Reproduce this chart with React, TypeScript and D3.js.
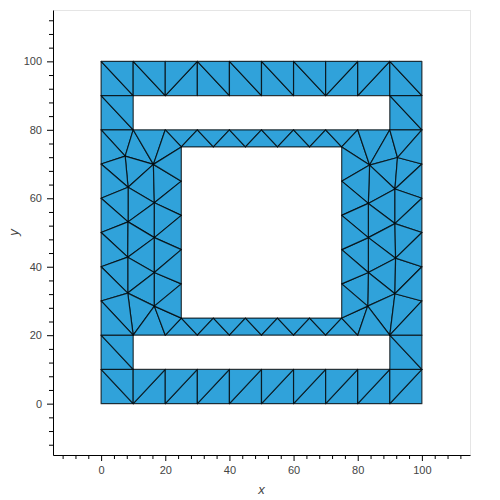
import React, { useRef, useEffect } from 'react';
import * as d3 from 'd3';

// Mesh nodes: [name, x, y]. Grid nodes are named "x_y", free interior nodes by letter.
const gridNodes: [string, number, number][] = [
  ['0_100', 0, 100], ['10_100', 10, 100], ['20_100', 20, 100], ['30_100', 30, 100], ['40_100', 40, 100], ['50_100', 50, 100],
  ['60_100', 60, 100], ['70_100', 70, 100], ['80_100', 80, 100], ['90_100', 90, 100], ['100_100', 100, 100],
  ['0_90', 0, 90], ['10_90', 10, 90], ['20_90', 20, 90], ['30_90', 30, 90], ['40_90', 40, 90], ['50_90', 50, 90],
  ['60_90', 60, 90], ['70_90', 70, 90], ['80_90', 80, 90], ['90_90', 90, 90], ['100_90', 100, 90],
  ['0_80', 0, 80], ['10_80', 10, 80], ['20_80', 20, 80], ['30_80', 30, 80], ['40_80', 40, 80], ['50_80', 50, 80],
  ['60_80', 60, 80], ['70_80', 70, 80], ['80_80', 80, 80], ['90_80', 90, 80], ['100_80', 100, 80],
  ['25_75', 25, 75], ['35_75', 35, 75], ['45_75', 45, 75], ['55_75', 55, 75], ['65_75', 65, 75], ['75_75', 75, 75],
  ['0_70', 0, 70], ['100_70', 100, 70], ['25_65', 25, 65], ['75_65', 75, 65],
  ['0_60', 0, 60], ['100_60', 100, 60], ['25_55', 25, 55], ['75_55', 75, 55],
  ['0_50', 0, 50], ['100_50', 100, 50], ['25_45', 25, 45], ['75_45', 75, 45],
  ['0_40', 0, 40], ['100_40', 100, 40], ['25_35', 25, 35], ['75_35', 75, 35],
  ['0_30', 0, 30], ['100_30', 100, 30],
  ['25_25', 25, 25], ['35_25', 35, 25], ['45_25', 45, 25], ['55_25', 55, 25], ['65_25', 65, 25], ['75_25', 75, 25],
  ['0_20', 0, 20], ['10_20', 10, 20], ['20_20', 20, 20], ['30_20', 30, 20], ['40_20', 40, 20], ['50_20', 50, 20],
  ['60_20', 60, 20], ['70_20', 70, 20], ['80_20', 80, 20], ['90_20', 90, 20], ['100_20', 100, 20],
  ['0_10', 0, 10], ['10_10', 10, 10], ['20_10', 20, 10], ['30_10', 30, 10], ['40_10', 40, 10], ['50_10', 50, 10],
  ['60_10', 60, 10], ['70_10', 70, 10], ['80_10', 80, 10], ['90_10', 90, 10], ['100_10', 100, 10],
  ['0_0', 0, 0], ['10_0', 10, 0], ['20_0', 20, 0], ['30_0', 30, 0], ['40_0', 40, 0], ['50_0', 50, 0],
  ['60_0', 60, 0], ['70_0', 70, 0], ['80_0', 80, 0], ['90_0', 90, 0], ['100_0', 100, 0],
];

const leftNodes: [string, number, number][] = [
  ['a', 7.5, 72.3], ['b', 16.3, 69.9], ['c', 8.4, 63.2], ['d', 16.6, 58.7], ['e', 8.4, 53.1],
  ['f', 16.6, 48.5], ['g', 8.3, 42.8], ['h', 16.6, 38.3], ['i', 8.3, 32.3], ['j', 16.6, 28.5],
];

const rightNodes: [string, number, number][] = [
  ['A', 83.7, 69.7], ['B', 92.4, 71.9], ['C', 91.6, 62.7], ['D', 83.3, 58.5], ['E', 91.6, 52.6],
  ['F', 83.3, 48.5], ['G', 91.8, 42.5], ['H', 83.3, 38.3], ['I', 91.6, 32.1], ['J', 83.1, 28.5],
];

// Cell diagonals of the 10-wide strips, left to right ("\" or "/")
const topStripCells = ['\\', '\\', '/', '\\', '\\', '\\', '\\', '/', '/', '\\'];
const bottomStripCells = ['\\', '/', '/', '/', '/', '/', '/', '/', '/', '/'];

type Tri = [string, string, string];

const sideTris: Tri[] = [
  // hole rows
  ['0_90', '0_80', '10_80'], ['0_90', '10_90', '10_80'],
  ['90_90', '90_80', '100_80'], ['90_90', '100_90', '100_80'],
  ['0_20', '0_10', '10_10'], ['0_20', '10_20', '10_10'],
  ['90_20', '90_10', '100_10'], ['90_20', '100_20', '100_10'],
];

const zigzagTris: Tri[] = [
  ['20_80', '25_75', '30_80'], ['25_75', '30_80', '35_75'], ['30_80', '35_75', '40_80'], ['35_75', '40_80', '45_75'],
  ['40_80', '45_75', '50_80'], ['45_75', '50_80', '55_75'], ['50_80', '55_75', '60_80'], ['55_75', '60_80', '65_75'],
  ['60_80', '65_75', '70_80'], ['65_75', '70_80', '75_75'], ['70_80', '75_75', '80_80'],
  ['20_20', '25_25', '30_20'], ['25_25', '30_20', '35_25'], ['30_20', '35_25', '40_20'], ['35_25', '40_20', '45_25'],
  ['40_20', '45_25', '50_20'], ['45_25', '50_20', '55_25'], ['50_20', '55_25', '60_20'], ['55_25', '60_20', '65_25'],
  ['60_20', '65_25', '70_20'], ['65_25', '70_20', '75_25'], ['70_20', '75_25', '80_20'],
];

const leftTris: Tri[] = [
  ['0_80', '10_80', 'a'], ['0_80', 'a', '0_70'], ['10_80', 'a', 'b'], ['10_80', '20_80', 'b'],
  ['20_80', '25_75', 'b'], ['a', 'b', 'c'], ['a', 'c', '0_70'], ['0_70', 'c', '0_60'],
  ['b', 'c', 'd'], ['b', 'd', '25_65'], ['b', '25_75', '25_65'], ['c', 'd', 'e'],
  ['c', 'e', '0_60'], ['0_60', 'e', '0_50'], ['d', '25_65', '25_55'], ['d', 'e', 'f'],
  ['d', 'f', '25_55'], ['f', '25_55', '25_45'], ['e', '0_50', 'g'], ['e', 'f', 'g'],
  ['f', 'g', 'h'], ['f', 'h', '25_45'], ['0_50', 'g', '0_40'], ['g', 'h', 'i'],
  ['g', 'i', '0_40'], ['0_40', 'i', '0_30'], ['h', 'i', 'j'], ['h', 'j', '25_35'],
  ['h', '25_45', '25_35'], ['i', 'j', '10_20'], ['i', '10_20', '0_30'], ['0_30', '10_20', '0_20'],
  ['j', '10_20', '20_20'], ['j', '20_20', '25_25'], ['j', '25_25', '25_35'],
];

const rightTris: Tri[] = [
  ['75_75', '80_80', 'A'], ['80_80', '90_80', 'A'], ['90_80', 'A', 'B'], ['90_80', '100_80', 'B'],
  ['A', 'B', 'C'], ['B', 'C', '100_70'], ['B', '100_80', '100_70'], ['75_75', 'A', '75_65'],
  ['A', 'C', 'D'], ['A', 'D', '75_65'], ['C', '100_70', '100_60'], ['C', 'D', 'E'],
  ['C', 'E', '100_60'], ['75_65', 'D', '75_55'], ['100_60', 'E', '100_50'], ['D', 'E', 'F'],
  ['D', 'F', '75_55'], ['E', 'F', 'G'], ['E', 'G', '100_50'], ['F', 'G', 'H'],
  ['F', 'H', '75_45'], ['F', '75_55', '75_45'], ['G', 'H', 'I'], ['G', 'I', '100_40'],
  ['G', '100_50', '100_40'], ['H', 'I', 'J'], ['H', 'J', '75_35'], ['H', '75_45', '75_35'],
  ['I', 'J', '90_20'], ['I', '90_20', '100_30'], ['I', '100_30', '100_40'], ['J', '75_25', '80_20'],
  ['J', '80_20', '90_20'], ['J', '75_35', '75_25'], ['100_30', '90_20', '100_20'],
];

const majorTicks = [0, 20, 40, 60, 80, 100];

// split a strip of 10-wide cells between yTop and yBot into triangles
function stripTris(cells: string[], yTop: number, yBot: number): Tri[] {
  const out: Tri[] = [];
  cells.forEach((diag, k) => {
    const x0 = k * 10, x1 = x0 + 10;
    const tl = `${x0}_${yTop}`, tr = `${x1}_${yTop}`, bl = `${x0}_${yBot}`, br = `${x1}_${yBot}`;
    if (diag === '\\') out.push([tl, bl, br], [tl, tr, br]);
    else out.push([bl, br, tr], [bl, tl, tr]);
  });
  return out;
}

const App: React.FC = () => {
  const svgRef = useRef<SVGSVGElement | null>(null);

  useEffect(() => {
    const svg = d3.select(svgRef.current);
    svg.selectAll('*').remove();
    const width = 500;
    const height = 500;
    const frame = { left: 53, right: 470, top: 10, bottom: 455 };

    const x = d3.scaleLinear().domain([-15, 115]).range([frame.left, frame.right]);
    const y = d3.scaleLinear().domain([-15, 115]).range([frame.bottom, frame.top]);

    const pos = new Map<string, [number, number]>();
    [...gridNodes, ...leftNodes, ...rightNodes].forEach(([n, nx, ny]) => pos.set(n, [nx, ny]));

    const tris: Tri[] = [
      ...stripTris(topStripCells, 100, 90),
      ...stripTris(bottomStripCells, 10, 0),
      ...sideTris,
      ...zigzagTris,
      ...leftTris,
      ...rightTris,
    ];

    svg.attr('width', width).attr('height', height);

    // plot outline
    svg.append('rect')
      .attr('x', frame.left + 0.5)
      .attr('y', frame.top + 0.5)
      .attr('width', frame.right - frame.left)
      .attr('height', frame.bottom - frame.top)
      .attr('fill', 'none')
      .attr('stroke', '#e5e5e5');

    const line = d3.line<[number, number]>()
      .x(d => x(d[0]))
      .y(d => y(d[1]))
      .curve(d3.curveLinearClosed);

    svg.append('g')
      .selectAll('path')
      .data(tris)
      .enter()
      .append('path')
      .attr('d', t => line(t.map(n => pos.get(n)!)))
      .attr('fill', '#30a2da')
      .attr('stroke', '#000')
      .attr('stroke-opacity', 0.75)
      .attr('stroke-width', 1.2)
      .attr('stroke-linejoin', 'round');

    const minorTicks = d3.range(-12, 116, 4).filter(v => v % 20 !== 0);
    const font = '"Liberation Sans", Arial, Helvetica, sans-serif';

    // x axis
    const gx = svg.append('g').attr('transform', `translate(0,${frame.bottom})`);
    gx.append('g')
      .call(d3.axisBottom(x).tickValues(minorTicks).tickSize(4).tickFormat(() => ''))
      .call(g => g.select('.domain').remove());
    gx.append('g')
      .call(d3.axisBottom(x).tickValues(majorTicks).tickSize(6).tickSizeOuter(0).tickPadding(5));

    // y axis
    const gy = svg.append('g').attr('transform', `translate(${frame.left},0)`);
    gy.append('g')
      .call(d3.axisLeft(y).tickValues(minorTicks).tickSize(4).tickFormat(() => ''))
      .call(g => g.select('.domain').remove());
    gy.append('g')
      .call(d3.axisLeft(y).tickValues(majorTicks).tickSize(6).tickSizeOuter(0).tickPadding(5));

    svg.selectAll('.tick text')
      .attr('fill', '#444')
      .style('font-family', font)
      .style('font-size', '11px');

    // axis labels
    svg.append('text')
      .attr('x', (frame.left + frame.right) / 2)
      .attr('y', 494)
      .attr('text-anchor', 'middle')
      .attr('fill', '#444')
      .style('font-family', font)
      .style('font-size', '13px')
      .style('font-style', 'italic')
      .text('x');

    svg.append('text')
      .attr('transform', `translate(18,${(frame.top + frame.bottom) / 2}) rotate(-90)`)
      .attr('text-anchor', 'middle')
      .attr('fill', '#444')
      .style('font-family', font)
      .style('font-size', '13px')
      .style('font-style', 'italic')
      .text('y');
  }, []);

  return (
    <svg
      ref={svgRef}
      style={{ position: 'absolute', left: 0, top: 0, display: 'block', background: '#fff' }}
    ></svg>
  );
};

export default App;
